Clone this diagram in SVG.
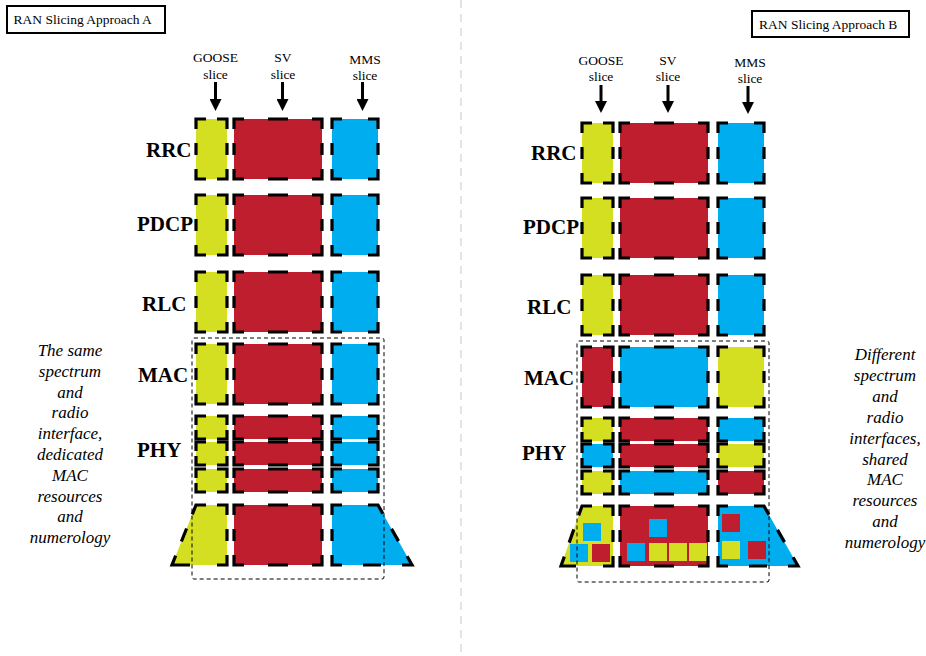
<svg xmlns="http://www.w3.org/2000/svg" xmlns:xlink="http://www.w3.org/1999/xlink" width="926" height="656" viewBox="0 0 926 656">
<style>
.y{fill:#D5DF21}.r{fill:#BE1E2D}.b{fill:#00AEEF}
.dash{fill:none;stroke:#000;stroke-width:3.2;stroke-linejoin:miter;stroke-linecap:butt}
.lbl{font-family:"Liberation Serif",serif;font-weight:bold;font-size:21px;fill:#000}
.sl{font-family:"Liberation Serif",serif;font-size:13.5px;text-anchor:middle;fill:#000}
.hd{font-family:"Liberation Serif",serif;font-size:13.5px;fill:#000}
.it{font-family:"Liberation Serif",serif;font-style:italic;font-size:17px;text-anchor:middle;fill:#000}
.hbox{fill:#fff;stroke:#000;stroke-width:2}
.grp{fill:none;stroke:#000;stroke-width:1;stroke-dasharray:4 3}
.arr{stroke:#000;stroke-width:3;fill:none}
</style>
<defs>
<marker id="ah" markerUnits="userSpaceOnUse" markerWidth="12" markerHeight="12" refX="5" refY="6" orient="auto"><path d="M0,0L12,6L0,12z" fill="#000"/></marker>
<path id="oG" d="M0,10V0H10M21,0H31V10M31,50V60H21M10,60H0V50M0,24V36M31,24V36"/>
<path id="oS" d="M0,10V0H10M78,0H88V10M88,50V60H78M10,60H0V50M0,24V36M88,24V36M34,0H54M34,60H54"/>
<path id="oM" d="M0,10V0H10M36,0H46V10M46,50V60H36M10,60H0V50M0,24V36M46,24V36"/>
<path id="pG" d="M0,9V0H10M21,0H31V9M31,14V23H21M10,23H0V14"/>
<path id="pS" d="M0,9V0H10M78,0H88V9M88,14V23H78M10,23H0V14M34,0H54M34,23H54"/>
<path id="pM" d="M0,9V0H10M36,0H46V9M46,14V23H36M10,23H0V14"/>
</defs>
<rect width="926" height="656" fill="#fff"/>
<line x1="461" y1="0" x2="461" y2="656" stroke="#c8c8c8" stroke-width="1" stroke-dasharray="8 6"/>

<g id="headerA"><rect class="hbox" x="7" y="6" width="158" height="27"/><text class="hd" x="13.5" y="24">RAN Slicing Approach A</text></g>
<g id="headerB"><rect class="hbox" x="752" y="11" width="157" height="26"/><text class="hd" x="759" y="29">RAN Slicing Approach B</text></g>

<g id="slice-labels">
<text class="sl" x="215.5" y="62">GOOSE</text><text class="sl" x="215.5" y="78.5">slice</text>
<text class="sl" x="283" y="62">SV</text><text class="sl" x="283" y="78.5">slice</text>
<text class="sl" x="365" y="64">MMS</text><text class="sl" x="365" y="80">slice</text>
<text class="sl" x="601" y="65">GOOSE</text><text class="sl" x="601" y="81">slice</text>
<text class="sl" x="668" y="65">SV</text><text class="sl" x="668" y="81">slice</text>
<text class="sl" x="750" y="66.5">MMS</text><text class="sl" x="750" y="83">slice</text>
</g>

<g id="connectors">
<line class="arr" x1="215.5" y1="82" x2="215.5" y2="104" marker-end="url(#ah)"/>
<line class="arr" x1="282.5" y1="82" x2="282.5" y2="104" marker-end="url(#ah)"/>
<line class="arr" x1="362.5" y1="82" x2="362.5" y2="104" marker-end="url(#ah)"/>
<line class="arr" x1="601" y1="85" x2="601" y2="106" marker-end="url(#ah)"/>
<line class="arr" x1="668" y1="85" x2="668" y2="106" marker-end="url(#ah)"/>
<line class="arr" x1="748" y1="86" x2="748" y2="107" marker-end="url(#ah)"/>
</g>

<g id="layer-labels">
<text class="lbl" x="146" y="157">RRC</text>
<text class="lbl" x="137" y="231">PDCP</text>
<text class="lbl" x="142" y="311">RLC</text>
<text class="lbl" x="138" y="382">MAC</text>
<text class="lbl" x="137" y="457">PHY</text>
<text class="lbl" x="531" y="160">RRC</text>
<text class="lbl" x="523" y="234">PDCP</text>
<text class="lbl" x="527" y="314">RLC</text>
<text class="lbl" x="524" y="385">MAC</text>
<text class="lbl" x="522" y="460">PHY</text>
</g>

<!-- Approach A -->
<g id="A-RRC"><rect class="y" x="196" y="119" width="31" height="60"/><use href="#oG" class="dash" x="196" y="119"/><rect class="r" x="234" y="119" width="88" height="60"/><use href="#oS" class="dash" x="234" y="119"/><rect class="b" x="332" y="119" width="46" height="60"/><use href="#oM" class="dash" x="332" y="119"/></g>
<g id="A-PDCP"><rect class="y" x="196" y="195" width="31" height="60"/><use href="#oG" class="dash" x="196" y="195"/><rect class="r" x="234" y="195" width="88" height="60"/><use href="#oS" class="dash" x="234" y="195"/><rect class="b" x="332" y="195" width="46" height="60"/><use href="#oM" class="dash" x="332" y="195"/></g>
<g id="A-RLC"><rect class="y" x="196" y="272" width="31" height="60"/><use href="#oG" class="dash" x="196" y="272"/><rect class="r" x="234" y="272" width="88" height="60"/><use href="#oS" class="dash" x="234" y="272"/><rect class="b" x="332" y="272" width="46" height="60"/><use href="#oM" class="dash" x="332" y="272"/></g>
<g id="A-MAC"><rect class="y" x="196" y="344" width="31" height="60"/><use href="#oG" class="dash" x="196" y="344"/><rect class="r" x="234" y="344" width="88" height="60"/><use href="#oS" class="dash" x="234" y="344"/><rect class="b" x="332" y="344" width="46" height="60"/><use href="#oM" class="dash" x="332" y="344"/></g>
<g id="A-PHY1"><rect class="y" x="196" y="416" width="31" height="23"/><use href="#pG" class="dash" x="196" y="416"/><rect class="r" x="234" y="416" width="88" height="23"/><use href="#pS" class="dash" x="234" y="416"/><rect class="b" x="332" y="416" width="46" height="23"/><use href="#pM" class="dash" x="332" y="416"/></g>
<g id="A-PHY2"><rect class="y" x="196" y="442" width="31" height="23"/><use href="#pG" class="dash" x="196" y="442"/><rect class="r" x="234" y="442" width="88" height="23"/><use href="#pS" class="dash" x="234" y="442"/><rect class="b" x="332" y="442" width="46" height="23"/><use href="#pM" class="dash" x="332" y="442"/></g>
<g id="A-PHY3"><rect class="y" x="196" y="469" width="31" height="23"/><use href="#pG" class="dash" x="196" y="469"/><rect class="r" x="234" y="469" width="88" height="23"/><use href="#pS" class="dash" x="234" y="469"/><rect class="b" x="332" y="469" width="46" height="23"/><use href="#pM" class="dash" x="332" y="469"/></g>
<g id="A-RADIO">
<polygon class="y" points="196,505 227,505 227,565 172,565"/>
<path class="dash" d="M206,505H196L192.3,514.3M217,505H227V515M227,529V541M227,555V565H217M190,565H172L175.7,555.7M186.6,528.5L181.4,541.5"/>
<rect class="r" x="234" y="505" width="88" height="60"/><use href="#oS" class="dash" x="234" y="505"/>
<polygon class="b" points="332,505 378,505 412,565 332,565"/>
<path class="dash" d="M332,515V505H342M368,505H378L382.9,513.7M391.5,528.9L398.5,541.1M407.1,556.3L412,565H402M363,565H381M342,565H332V555M332,529V541"/>
</g>
<rect id="A-shared" class="grp" x="192" y="338" width="192" height="241" rx="2"/>
<g id="A-note">
<text class="it" x="70" y="356">The same</text>
<text class="it" x="70" y="376.8">spectrum</text>
<text class="it" x="70" y="397.6">and</text>
<text class="it" x="70" y="418.4">radio</text>
<text class="it" x="70" y="439.2">interface,</text>
<text class="it" x="70" y="460">dedicated</text>
<text class="it" x="70" y="480.8">MAC</text>
<text class="it" x="70" y="501.6">resources</text>
<text class="it" x="70" y="522.4">and</text>
<text class="it" x="70" y="543.2">numerology</text>
</g>

<!-- Approach B -->
<g id="B-RRC"><rect class="y" x="582" y="123" width="31" height="60"/><use href="#oG" class="dash" x="582" y="123"/><rect class="r" x="620" y="123" width="88" height="60"/><use href="#oS" class="dash" x="620" y="123"/><rect class="b" x="718" y="123" width="46" height="60"/><use href="#oM" class="dash" x="718" y="123"/></g>
<g id="B-PDCP"><rect class="y" x="582" y="198" width="31" height="60"/><use href="#oG" class="dash" x="582" y="198"/><rect class="r" x="620" y="198" width="88" height="60"/><use href="#oS" class="dash" x="620" y="198"/><rect class="b" x="718" y="198" width="46" height="60"/><use href="#oM" class="dash" x="718" y="198"/></g>
<g id="B-RLC"><rect class="y" x="582" y="275" width="31" height="60"/><use href="#oG" class="dash" x="582" y="275"/><rect class="r" x="620" y="275" width="88" height="60"/><use href="#oS" class="dash" x="620" y="275"/><rect class="b" x="718" y="275" width="46" height="60"/><use href="#oM" class="dash" x="718" y="275"/></g>
<g id="B-MAC"><rect class="r" x="582" y="347" width="31" height="60"/><use href="#oG" class="dash" x="582" y="347"/><rect class="b" x="620" y="347" width="88" height="60"/><use href="#oS" class="dash" x="620" y="347"/><rect class="y" x="718" y="347" width="46" height="60"/><use href="#oM" class="dash" x="718" y="347"/></g>
<g id="B-PHY1"><rect class="y" x="582" y="418" width="31" height="23"/><use href="#pG" class="dash" x="582" y="418"/><rect class="r" x="620" y="418" width="88" height="23"/><use href="#pS" class="dash" x="620" y="418"/><rect class="b" x="718" y="418" width="46" height="23"/><use href="#pM" class="dash" x="718" y="418"/></g>
<g id="B-PHY2"><rect class="b" x="582" y="444" width="31" height="23"/><use href="#pG" class="dash" x="582" y="444"/><rect class="r" x="620" y="444" width="88" height="23"/><use href="#pS" class="dash" x="620" y="444"/><rect class="y" x="718" y="444" width="46" height="23"/><use href="#pM" class="dash" x="718" y="444"/></g>
<g id="B-PHY3"><rect class="y" x="582" y="471" width="31" height="23"/><use href="#pG" class="dash" x="582" y="471"/><rect class="b" x="620" y="471" width="88" height="23"/><use href="#pS" class="dash" x="620" y="471"/><rect class="r" x="718" y="471" width="46" height="23"/><use href="#pM" class="dash" x="718" y="471"/></g>
<g id="B-RADIO">
<polygon class="y" points="582,506 613,506 613,566 561,566"/>
<rect class="b" x="583" y="523" width="18" height="18"/>
<rect class="b" x="570" y="544" width="18" height="18"/>
<rect class="r" x="592" y="544" width="18" height="18"/>
<path class="dash" d="M592,506H582L578.7,515.4M603,506H613V516M613,530V542M613,556V566H603M576,566H561L564.3,556.6M573.8,529.4L569.2,542.6"/>
<rect class="r" x="620" y="506" width="88" height="60"/>
<rect class="b" x="649" y="519" width="18" height="18"/>
<rect class="b" x="627" y="543" width="18" height="18"/>
<rect class="y" x="649" y="543" width="18" height="18"/>
<rect class="y" x="669" y="543" width="18" height="18"/>
<rect class="y" x="689" y="543" width="18" height="18"/>
<use href="#oS" class="dash" x="620" y="506"/>
<polygon class="b" points="718,506 764,506 798,566 718,566"/>
<rect class="r" x="722" y="514" width="18" height="18"/>
<rect class="y" x="722" y="541" width="18" height="18"/>
<rect class="r" x="748" y="541" width="18" height="18"/>
<path class="dash" d="M718,516V506H728M754,506H764L768.9,514.7M777.5,529.9L784.5,542.1M793.1,557.3L798,566H788M749,566H767M728,566H718V556M718,530V542"/>
</g>
<rect id="B-shared" class="grp" x="577" y="341" width="192" height="241" rx="2"/>
<g id="B-note">
<text class="it" x="885" y="360">Different</text>
<text class="it" x="885" y="380.9">spectrum</text>
<text class="it" x="885" y="401.8">and</text>
<text class="it" x="885" y="422.7">radio</text>
<text class="it" x="885" y="443.6">interfaces,</text>
<text class="it" x="885" y="464.5">shared</text>
<text class="it" x="885" y="485.4">MAC</text>
<text class="it" x="885" y="506.3">resources</text>
<text class="it" x="885" y="527.2">and</text>
<text class="it" x="885" y="548">numerology</text>
</g>
</svg>
